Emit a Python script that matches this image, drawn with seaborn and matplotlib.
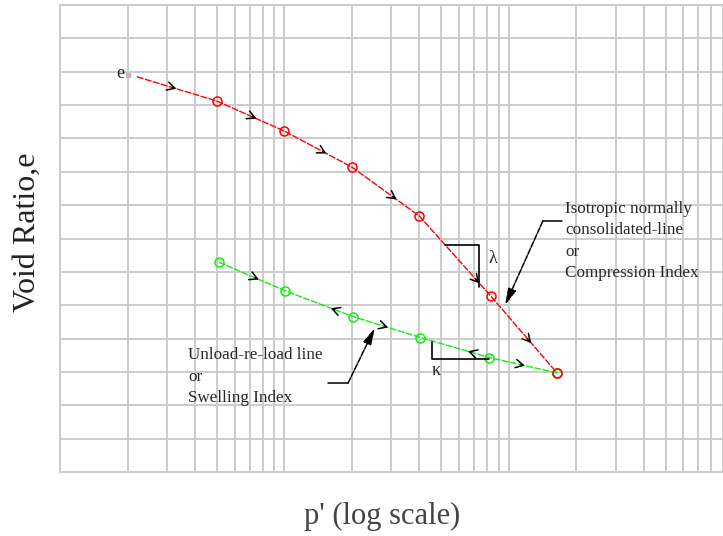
import numpy as np
import matplotlib
matplotlib.use("Agg")
import matplotlib.pyplot as plt
import seaborn as sns
from matplotlib.ticker import LogLocator, NullFormatter, FixedLocator

# ---- data ----
ncl_p = [2.2, 5, 10, 20, 40, 83, 164]
ncl_e = [11.85, 11.12, 10.22, 9.14, 7.67, 5.28, 2.97]

url_p = [5.1, 10.1, 20.2, 40.4, 82, 164]
url_e = [6.29, 5.43, 4.66, 4.03, 3.43, 2.97]

ncl_arrow_p = [3.3, 7.5, 15.4, 31.6, 74, 126]
url_arrow_p = [7.7, 16.1, 29.0, 65.7, 118]
url_arrow_dir = [1, -1, 1, -1, 1]

lam_tri_p = [52, 73.6, 73.6]
lam_tri_e = [6.80, 6.80, 5.55]
kap_tri_p = [45.5, 45.5, 82]
kap_tri_e = [3.91, 3.38, 3.38]

sns.set_style("white")
plt.rcParams["font.family"] = ["Liberation Serif", "DejaVu Serif"]

fig = plt.figure(figsize=(7.23, 5.36), dpi=100)
ax = fig.add_axes([60 / 723, 64 / 536, 663 / 723, 467 / 536])

ax.set_xscale("log")
ax.set_xlim(1, 901)
ax.set_ylim(0, 14)
ax.yaxis.set_major_locator(FixedLocator(range(0, 15)))
ax.xaxis.set_major_locator(LogLocator(base=10))
ax.xaxis.set_minor_locator(LogLocator(base=10, subs=np.arange(2, 10)))
ax.xaxis.set_major_formatter(NullFormatter())
ax.xaxis.set_minor_formatter(NullFormatter())
ax.set_yticklabels([])
ax.tick_params(which="both", length=0)
ax.grid(True, which="both", color="#cccccc", lw=1.4)
for s in ax.spines.values():
    s.set_color("#cccccc")
    s.set_linewidth(1.4)
ax.set_axisbelow(True)

# normally consolidated line
sns.lineplot(x=ncl_p, y=ncl_e, ax=ax, color="red", lw=1.0, sort=False,
             linestyle=(0, (5, 1)), marker="o", markevery=list(range(1, len(ncl_p))),
             ms=6.5, mfc="none", mec="red", mew=1.1)
# unload / reload line
sns.lineplot(x=url_p, y=url_e, ax=ax, color="#11ee11", lw=1.0, sort=False,
             linestyle=(0, (5, 1)), marker="o", ms=6.5, mfc="none", mec="#11ee11", mew=1.1)
ax.plot(ncl_p[-1], ncl_e[-1], "o", ms=6.5, mfc="none", mec="red", mew=1.1)


def chevrons(ps, dirs, cp, ce):
    lcp = np.log10(cp)
    for p, d in zip(ps, dirs):
        tail = p / 1.04 if d > 0 else p * 1.04
        ax.annotate("", xy=(p, np.interp(np.log10(p), lcp, ce)),
                    xytext=(tail, np.interp(np.log10(tail), lcp, ce)),
                    arrowprops=dict(arrowstyle="->,head_length=0.55,head_width=0.3",
                                    color="black", lw=1.1, shrinkA=0, shrinkB=0))


chevrons(ncl_arrow_p, [1] * len(ncl_arrow_p), ncl_p, ncl_e)
chevrons(url_arrow_p, url_arrow_dir, url_p, url_e)

# slope triangles
ax.plot(lam_tri_p, lam_tri_e, color="black", lw=1.2)
ax.plot(kap_tri_p, kap_tri_e, color="black", lw=1.2)
ax.text(85, 6.41, "λ", fontsize=13, ha="center", va="center")
ax.text(47.6, 3.04, "κ", fontsize=13, ha="center", va="center")

# e0 marker
ax.plot([2.0], [11.9], "s", ms=3.5, color="#bbbbbb")
ax.text(1.93, 11.95, "e", fontsize=13, ha="right", va="center")

# labels with arrows
txt = dict(fontsize=12.3, ha="left", va="center", linespacing=1.45)
ax.text(178, 6.92, "Isotropic normally\nconsolidated-line\nor\nCompression Index", **txt)
ax.text(3.72, 2.86, "Unload-re-load line\nor\nSwelling Index", **txt)

ax.plot([172.6, 142], [7.53, 7.53], color="black", lw=1.1)
ax.annotate("", xy=(96.2, 5.0), xytext=(142, 7.53),
            arrowprops=dict(arrowstyle="-|>,head_length=1.0,head_width=0.25",
                            color="black", lw=1.1, shrinkA=0, shrinkB=0, linestyle=(0, (4, 1))))
ax.plot([15.6, 19.2], [2.66, 2.66], color="black", lw=1.1)
ax.annotate("", xy=(25.3, 4.32), xytext=(19.2, 2.66),
            arrowprops=dict(arrowstyle="-|>,head_length=1.0,head_width=0.25",
                            color="black", lw=1.1, shrinkA=0, shrinkB=0, linestyle=(0, (4, 1))))

fig.text(27 / 723, 1 - 232 / 536, "Void Ratio,e", rotation=90, fontsize=23,
         ha="center", va="center", color="#222222")
fig.text(382 / 723, 1 - 516 / 536, "p' (log scale)", fontsize=22,
         ha="center", va="center", color="#444444")

fig.savefig("out.png", dpi=100)
